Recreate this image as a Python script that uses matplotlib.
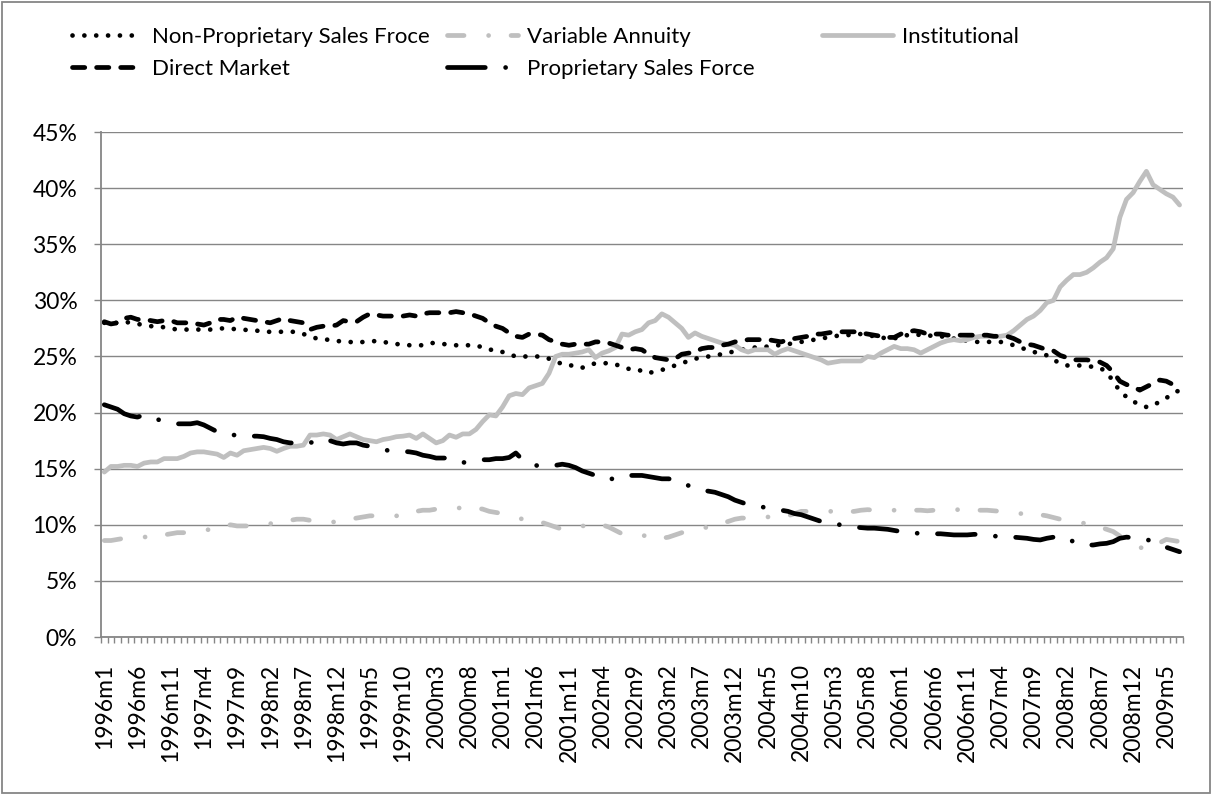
import numpy as np
import matplotlib
matplotlib.use("Agg")
import matplotlib.pyplot as plt
from matplotlib.patches import Rectangle

# Monthly categories 1996m1 .. 2009m7
months = [f"{1996 + k // 12}m{k % 12 + 1}" for k in range(163)]

# Market share by channel, in percent (one row per year)
non_proprietary = [
    28.0, 28.0, 28.0, 28.1, 28.0, 27.9, 27.8, 27.7, 27.7, 27.6, 27.5, 27.4,  # 1996
    27.4, 27.4, 27.4, 27.4, 27.4, 27.5, 27.5, 27.5, 27.4, 27.4, 27.3, 27.3,  # 1997
    27.2, 27.2, 27.2, 27.2, 27.2, 27.2, 27.0, 26.8, 26.6, 26.5, 26.5, 26.4,  # 1998
    26.3, 26.3, 26.2, 26.3, 26.3, 26.4, 26.3, 26.2, 26.1, 26.1, 26.0, 26.0,  # 1999
    26.0, 26.2, 26.2, 26.1, 26.1, 26.0, 26.0, 26.0, 26.0, 25.8, 25.6, 25.6,  # 2000
    25.4, 25.2, 25.0, 25.0, 25.0, 25.0, 25.0, 24.8, 24.6, 24.3, 24.2, 24.2,  # 2001
    24.0, 24.2, 24.4, 24.4, 24.4, 24.3, 24.1, 23.9, 23.9, 23.7, 23.5, 23.7,  # 2002
    23.8, 24.0, 24.2, 24.4, 24.6, 24.8, 24.9, 25.0, 25.1, 25.2, 25.3, 25.5,  # 2003
    25.6, 25.7, 25.8, 25.8, 25.9, 26.0, 26.0, 26.1, 26.2, 26.3, 26.4, 26.5,  # 2004
    26.6, 26.7, 26.8, 26.9, 26.9, 27.0, 27.0, 26.9, 26.8, 26.7, 26.6, 26.6,  # 2005
    26.8, 26.9, 27.0, 26.9, 26.9, 26.8, 26.8, 26.7, 26.6, 26.5, 26.4, 26.3,  # 2006
    26.3, 26.3, 26.3, 26.3, 26.2, 26.0, 25.8, 25.6, 25.4, 25.3, 25.1, 24.7,  # 2007
    24.4, 24.2, 24.2, 24.2, 24.1, 24.1, 24.0, 23.6, 22.8, 21.9, 21.4, 21.0,  # 2008
    20.7, 20.5, 20.6, 21.0, 21.3, 21.7, 22.0,                                # 2009
]
variable_annuity = [
    8.6, 8.6, 8.7, 8.8, 8.8, 8.8, 8.9, 9.0, 9.0, 9.1, 9.2, 9.3,
    9.3, 9.4, 9.5, 9.5, 9.6, 9.7, 9.8, 10.0, 9.9, 9.9, 9.9, 10.0,
    10.1, 10.1, 10.2, 10.3, 10.4, 10.5, 10.5, 10.4, 10.3, 10.2, 10.2, 10.3,
    10.4, 10.5, 10.6, 10.7, 10.8, 10.8, 10.8, 10.8, 10.8, 10.8, 11.0, 11.2,
    11.3, 11.3, 11.4, 11.4, 11.5, 11.5, 11.5, 11.5, 11.5, 11.4, 11.2, 11.1,
    11.0, 10.8, 10.7, 10.5, 10.4, 10.3, 10.2, 10.0, 9.8, 9.6, 9.7, 9.8,
    9.9, 9.9, 10.0, 10.0, 9.8, 9.5, 9.2, 9.0, 9.0, 9.0, 9.1, 8.9,
    8.8, 8.9, 9.1, 9.3, 9.4, 9.5, 9.7, 9.8, 10.0, 10.15, 10.3, 10.5,
    10.6, 10.6, 10.7, 10.7, 10.7, 10.7, 10.7, 10.8, 11.0, 11.2, 11.2, 11.2,
    11.2, 11.2, 11.2, 11.2, 11.15, 11.2, 11.3, 11.35, 11.3, 11.3, 11.3, 11.3,
    11.3, 11.3, 11.3, 11.3, 11.25, 11.3, 11.3, 11.35, 11.35, 11.35, 11.35, 11.3,
    11.3, 11.3, 11.25, 11.2, 11.1, 11.1, 11.0, 11.0, 11.0, 10.9, 10.8, 10.65,
    10.5, 10.4, 10.3, 10.2, 10.1, 10.0, 9.8, 9.6, 9.4, 9.0, 8.5, 8.2,
    8.0, 7.8, 8.1, 8.4, 8.7, 8.6, 8.5,
]
institutional = [
    14.7, 15.2, 15.2, 15.3, 15.3, 15.2, 15.5, 15.6, 15.6, 15.9, 15.9, 15.9,
    16.1, 16.4, 16.5, 16.5, 16.4, 16.3, 16.0, 16.4, 16.2, 16.6, 16.7, 16.8,
    16.9, 16.8, 16.55, 16.8, 17.0, 17.0, 17.1, 18.0, 18.0, 18.1, 18.0, 17.6,
    17.85, 18.1, 17.85, 17.6, 17.5, 17.4, 17.6, 17.7, 17.85, 17.9, 18.0, 17.7,
    18.1, 17.7, 17.3, 17.5, 18.0, 17.8, 18.1, 18.1, 18.5, 19.2, 19.8, 19.7,
    20.5, 21.5, 21.7, 21.6, 22.2, 22.4, 22.6, 23.5, 25.0, 25.2, 25.2, 25.3,
    25.4, 25.6, 24.9, 25.3, 25.5, 25.8, 27.0, 26.9, 27.2, 27.4, 28.0, 28.2,
    28.8, 28.5, 28.0, 27.5, 26.7, 27.1, 26.8, 26.6, 26.4, 26.2, 26.1, 26.0,
    25.6, 25.4, 25.6, 25.6, 25.6, 25.2, 25.5, 25.7, 25.5, 25.3, 25.1, 24.9,
    24.7, 24.4, 24.5, 24.6, 24.6, 24.6, 24.6, 25.0, 24.9, 25.3, 25.6, 25.9,
    25.7, 25.7, 25.6, 25.3, 25.6, 25.9, 26.2, 26.4, 26.5, 26.4, 26.5, 26.7,
    26.8, 26.8, 26.8, 26.8, 26.9, 27.3, 27.8, 28.3, 28.6, 29.1, 29.8, 30.0,
    31.2, 31.8, 32.3, 32.3, 32.5, 32.9, 33.4, 33.8, 34.6, 37.4, 39.0, 39.6,
    40.6, 41.5, 40.3, 39.9, 39.5, 39.2, 38.5,
]
direct_market = [
    28.1, 27.9, 28.0, 28.4, 28.5, 28.3, 28.3, 28.2, 28.1, 28.2, 28.2, 28.0,
    28.0, 28.0, 27.9, 27.8, 28.0, 28.3, 28.3, 28.2, 28.5, 28.4, 28.3, 28.2,
    28.1, 28.0, 28.2, 28.4, 28.2, 28.1, 28.0, 27.4, 27.6, 27.7, 27.7, 27.8,
    28.2, 28.1, 28.1, 28.5, 28.8, 28.7, 28.6, 28.6, 28.6, 28.6, 28.7, 28.6,
    28.8, 28.9, 28.9, 28.9, 28.9, 29.0, 28.9, 28.8, 28.6, 28.4, 28.0, 27.7,
    27.5, 27.1, 26.8, 26.7, 27.0, 27.0, 26.9, 26.5, 26.3, 26.1, 26.0, 26.1,
    26.1, 26.1, 26.3, 26.3, 26.2, 26.0, 25.8, 25.6, 25.7, 25.6, 25.2, 24.9,
    24.8, 24.7, 24.8, 25.2, 25.3, 25.4, 25.7, 25.8, 25.8, 26.0, 26.1, 26.3,
    26.4, 26.5, 26.5, 26.5, 26.5, 26.4, 26.3, 26.5, 26.6, 26.7, 26.8, 27.0,
    27.0, 27.1, 27.2, 27.2, 27.2, 27.2, 27.1, 27.0, 26.9, 26.8, 26.7, 26.7,
    27.0, 27.2, 27.3, 27.2, 27.0, 27.0, 27.0, 26.9, 26.9, 26.9, 26.9, 26.9,
    26.9, 26.9, 26.8, 26.8, 26.8, 26.6, 26.3, 26.1, 26.0, 25.8, 25.6, 25.5,
    25.1, 24.9, 24.7, 24.7, 24.7, 24.6, 24.5, 24.2, 23.6, 22.8, 22.5, 22.3,
    22.0, 22.3, 22.6, 22.9, 22.8, 22.5, 22.3,
]
proprietary = [
    20.7, 20.5, 20.3, 19.9, 19.7, 19.6, 19.8, 19.6, 19.4, 19.2, 19.1, 19.0,
    19.0, 19.0, 19.1, 18.9, 18.6, 18.3, 18.1, 18.0, 18.0, 17.9, 17.9, 17.9,
    17.85, 17.7, 17.6, 17.4, 17.3, 17.3, 17.2, 17.3, 17.5, 17.7, 17.5, 17.3,
    17.2, 17.3, 17.3, 17.1, 17.0, 16.8, 16.7, 16.6, 16.6, 16.55, 16.5, 16.4,
    16.2, 16.1, 15.95, 15.95, 15.95, 15.7, 15.55, 15.6, 15.7, 15.8, 15.8, 15.9,
    15.9, 16.0, 16.4, 15.8, 15.5, 15.3, 15.2, 15.3, 15.3, 15.4, 15.3, 15.1,
    14.8, 14.6, 14.4, 14.2, 14.0, 14.2, 14.4, 14.4, 14.4, 14.4, 14.3, 14.2,
    14.1, 14.1, 14.0, 13.7, 13.5, 13.3, 13.1, 13.0, 12.9, 12.7, 12.5, 12.2,
    12.0, 11.8, 11.7, 11.6, 11.5, 11.4, 11.3, 11.2, 11.0, 10.9, 10.7, 10.5,
    10.3, 10.1, 10.05, 10.0, 9.9, 9.8, 9.75, 9.7, 9.7, 9.65, 9.6, 9.5,
    9.4, 9.3, 9.25, 9.25, 9.2, 9.2, 9.2, 9.15, 9.1, 9.1, 9.1, 9.15,
    9.15, 9.1, 9.0, 8.95, 8.9, 8.9, 8.85, 8.8, 8.7, 8.65, 8.8, 8.9,
    9.0, 8.8, 8.5, 8.25, 8.2, 8.2, 8.3, 8.35, 8.5, 8.8, 8.9, 8.85,
    8.8, 8.7, 8.5, 8.2, 8.0, 7.8, 7.6,
]

GRAY_LINE = "#BFBFBF"
AXIS_GRAY = "#868686"
plt.rcParams["font.family"] = ["Lato", "DejaVu Sans"]
plt.rcParams["font.size"] = 16

fig = plt.figure(figsize=(12.12, 7.95), dpi=100)
ax = fig.add_axes([0.0833, 0.1987, 0.8927, 0.6352])
x = np.arange(len(months))
lw = 3.4

# Series drawn in the Excel order so later ones sit on top
l_np, = ax.plot(x, non_proprietary, color="black", lw=lw,
                linestyle=(0, (0.01, 2.5)), dash_capstyle="round",
                label="Non-Proprietary Sales Froce")
l_va, = ax.plot(x, variable_annuity, color=GRAY_LINE, lw=lw,
                linestyle=(0, (3.5, 5.2, 0.01, 4.75)), dash_capstyle="round",
                label="Variable Annuity")
l_inst, = ax.plot(x, institutional, color=GRAY_LINE, lw=lw,
                  solid_capstyle="round", solid_joinstyle="round",
                  label="Institutional")
l_dm, = ax.plot(x, direct_market, color="black", lw=lw,
                linestyle=(0, (2.6, 2.5)), dash_capstyle="round",
                label="Direct Market")
l_psf, = ax.plot(x, proprietary, color="black", lw=lw,
                 linestyle=(0, (8.0, 4.3, 0.01, 4.3)), dash_capstyle="round",
                 label="Proprietary Sales Force")

# axes look
ax.set_xlim(-0.5, len(months) - 0.5)
ax.set_ylim(0, 45)
ax.set_yticks(range(0, 50, 5))
ax.set_yticklabels([f"{v}%" for v in range(0, 50, 5)])
ax.grid(axis="y", color=AXIS_GRAY, linewidth=1.0)
ax.set_axisbelow(True)
for side in ["top", "right"]:
    ax.spines[side].set_visible(False)
for side in ["left", "bottom"]:
    ax.spines[side].set_color(AXIS_GRAY)
    ax.spines[side].set_linewidth(1.3)

ax.set_xticks(x[::5])
ax.set_xticklabels(months[::5], rotation=90, ha="center", va="top")
ax.set_xticks(np.arange(-0.5, len(months), 1), minor=True)
ax.tick_params(axis="x", which="major", length=0, pad=19, labelsize=16.5)
ax.tick_params(axis="x", which="minor", length=4.5, width=1, color=AXIS_GRAY)
ax.tick_params(axis="y", length=5, width=1, color=AXIS_GRAY, pad=12, labelsize=16.5)

# Legend laid out in three fixed columns like the Excel one
leg_kw = dict(loc="upper left", frameon=False, borderpad=0, borderaxespad=0,
              handlelength=3.2, handletextpad=0.4, labelspacing=0.55, fontsize=16)
fig.legend(handles=[l_np, l_dm], bbox_to_anchor=(72 / 1212, 0.966), **leg_kw)
fig.legend(handles=[l_va, l_psf], bbox_to_anchor=(447 / 1212, 0.966), **leg_kw)
fig.legend(handles=[l_inst], bbox_to_anchor=(822 / 1212, 0.966), **leg_kw)

# chart area border
fig.patches.append(Rectangle((0.002, 0.003), 0.996, 0.994, transform=fig.transFigure,
                             fill=False, edgecolor=AXIS_GRAY, linewidth=1.3))

fig.savefig("out.png", dpi=100)
